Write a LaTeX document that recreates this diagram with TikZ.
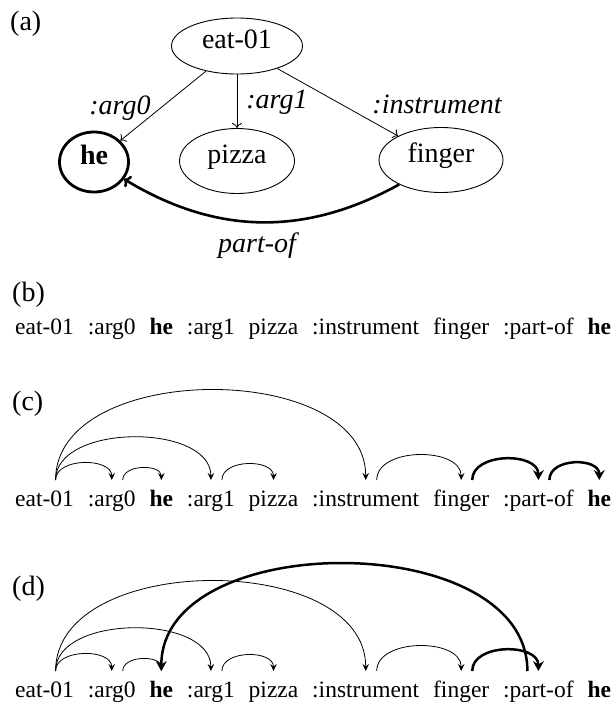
\documentclass[tikz,border=0pt]{standalone}
\usepackage{fontspec}
\setmainfont{Liberation Serif}
\usetikzlibrary{arrows.meta,positioning,shapes.geometric}

\begin{document}
\begin{tikzpicture}[x=1pt,y=-1pt,
  amrnode/.style={ellipse, draw, line width=0.9pt, inner sep=0pt,
    text height=0.69em, text depth=0.22em,
    font=\fontsize{28}{32}\selectfont},
  rel/.style={font=\fontsize{28}{32}\selectfont\itshape, anchor=base, inner sep=0pt},
  tag/.style={font=\fontsize{28}{32}\selectfont, anchor=base west, inner sep=0pt},
  word/.style={font=\fontsize{23.5}{28}\selectfont, inner sep=0pt},
  thinedge/.style={line width=0.8pt, -{To[length=5pt,width=10pt]}},
  thickedge/.style={line width=2.6pt, -{To[length=6pt,width=13pt]}},
  arcthin/.style={line width=0.8pt, -{Stealth[length=7pt,width=6.5pt,inset=2.5pt]}},
  arcthick/.style={line width=2.5pt, -{Stealth[length=10pt,width=11pt,inset=3.5pt]}},
]
\useasboundingbox (0,0) rectangle (614,702);

% (a) the graph
\node[tag] (la) at (10,30) {(a)};
\node[amrnode, minimum width=131pt, minimum height=56pt] (eat) at (237,46) {eat-01};
\node[amrnode, minimum width=69pt, minimum height=60pt, line width=2.8pt] (he) at (94,162) {\textbf{he}};
\node[amrnode, minimum width=115pt, minimum height=65pt] (pizza) at (237,161) {pizza};
\node[amrnode, minimum width=124pt, minimum height=65pt] (finger) at (441,160) {finger};

\draw[thinedge] (eat) -- (he);
\draw[thinedge] (eat) -- (pizza);
\draw[thinedge] (eat) -- (finger);
\draw[thickedge] (finger) to[bend left=30] (he);

\node[rel] (r0) at (120,114) {:arg0};
\node[rel] (r1) at (277,108) {:arg1};
\node[rel] (r2) at (437,113) {:instrument};
\node[rel] (r3) at (257,252) {part-of};

% (b)-(d) the linearised sequence
\def\wordgap{13.5pt}
\foreach \r/\yb/\yt in {b/334/301, c/506/410, d/697/595} {
  \node[tag] (\r0) at (12,\yt) {(\r)};
  \node[word, anchor=base west] (\r1) at (15,\yb) {eat-01};
  \node[word, base right=\wordgap of \r1] (\r2) {:arg0};
  \node[word, base right=\wordgap of \r2] (\r3) {\textbf{he}};
  \node[word, base right=\wordgap of \r3] (\r4) {:arg1};
  \node[word, base right=\wordgap of \r4] (\r5) {pizza};
  \node[word, base right=\wordgap of \r5] (\r6) {:instrument};
  \node[word, base right=\wordgap of \r6] (\r7) {finger};
  \node[word, base right=\wordgap of \r7] (\r8) {:part-of};
  \node[word, base right=\wordgap of \r8] (\r9) {\textbf{he}};
}

% arcs shared by (c) and (d)
\foreach \r in {c,d} {
  \draw[arcthin] ([xshift=11pt,yshift=26pt]\r1.base) .. controls +(0,-22.7) and +(0,-22.7) .. ([yshift=26pt]\r2.base);
  \draw[arcthin] ([xshift=11pt,yshift=26pt]\r1.base) .. controls +(0,-57) and +(0,-57) .. ([yshift=26pt]\r4.base);
  \draw[arcthin] ([xshift=11pt,yshift=26pt]\r1.base) .. controls +(0,-120) and +(0,-120) .. ([yshift=26pt]\r6.base);
  \draw[arcthin] ([xshift=11pt,yshift=26pt]\r2.base) .. controls +(0,-16) and +(0,-16) .. ([yshift=26pt]\r3.base);
  \draw[arcthin] ([xshift=11pt,yshift=26pt]\r4.base) .. controls +(0,-21.3) and +(0,-21.3) .. ([yshift=26pt]\r5.base);
  \draw[arcthin] ([xshift=11pt,yshift=26pt]\r6.base) .. controls +(0,-33.3) and +(0,-33.3) .. ([yshift=26pt]\r7.base);
  \draw[arcthick] ([xshift=11pt,yshift=26pt]\r7.base) .. controls +(0,-28) and +(0,-28) .. ([yshift=26pt]\r8.base);
}
% (c): part-of points to the following he
\draw[arcthick] ([xshift=11pt,yshift=26pt]c8.base) .. controls +(0,-22.7) and +(0,-22.7) .. ([yshift=26pt]c9.base);
% (d): part-of points back to the first he
\draw[arcthick] ([xshift=-11pt,yshift=26pt]d8.base) .. controls +(0,-143) and +(0,-143) .. ([yshift=26pt]d3.base);
\end{tikzpicture}
\end{document}
